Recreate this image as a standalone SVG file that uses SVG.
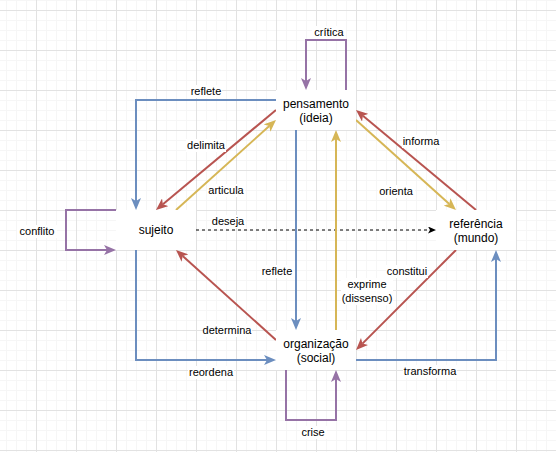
<svg xmlns="http://www.w3.org/2000/svg" width="556" height="452" viewBox="0 0 556 452">
<style>
.e{fill:none;stroke-width:2;stroke-linejoin:miter}
.b{stroke:#6c8ebf}.r{stroke:#b85450}.y{stroke:#d6b656}.p{stroke:#9673a6}
.lb{fill:#fff}
.t{font-family:"Liberation Sans",Arial,sans-serif;font-size:11px;fill:#000;text-anchor:middle}
.n{font-family:"Liberation Sans",Arial,sans-serif;font-size:12px;fill:#000;text-anchor:middle}
.nb{fill:#fff;stroke:none}
</style>
<defs>
<pattern id="gmin" width="10" height="10" x="6" y="0" patternUnits="userSpaceOnUse"><rect width="10" height="1" fill="#f6f6f6"/><rect width="1" height="10" fill="#f6f6f6"/></pattern>
<pattern id="gmaj" width="40" height="40" x="36" y="10" patternUnits="userSpaceOnUse"><rect width="40" height="1" fill="#e2e2e2"/><rect width="1" height="40" fill="#e2e2e2"/></pattern>
<marker id="ab" viewBox="0 0 12 10" refX="3" refY="5" markerWidth="12" markerHeight="10" markerUnits="userSpaceOnUse" orient="auto"><path d="M0,0 L12,5 L0,10 L3,5 Z" fill="#6c8ebf"/></marker>
<marker id="ar" viewBox="0 0 12 10" refX="3" refY="5" markerWidth="12" markerHeight="10" markerUnits="userSpaceOnUse" orient="auto"><path d="M0,0 L12,5 L0,10 L3,5 Z" fill="#b85450"/></marker>
<marker id="ay" viewBox="0 0 12 10" refX="3" refY="5" markerWidth="12" markerHeight="10" markerUnits="userSpaceOnUse" orient="auto"><path d="M0,0 L12,5 L0,10 L3,5 Z" fill="#d6b656"/></marker>
<marker id="ap" viewBox="0 0 12 10" refX="3" refY="5" markerWidth="12" markerHeight="10" markerUnits="userSpaceOnUse" orient="auto"><path d="M0,0 L12,5 L0,10 L3,5 Z" fill="#9673a6"/></marker>
<marker id="ak" viewBox="0 0 8 7" refX="2" refY="3.5" markerWidth="8" markerHeight="7" markerUnits="userSpaceOnUse" orient="auto"><path d="M0,0 L8,3.5 L0,7 L2,3.5 Z" fill="#000"/></marker>
</defs>
<rect width="556" height="452" fill="#fff"/>
<rect width="556" height="452" fill="url(#gmin)"/>
<rect width="556" height="452" fill="url(#gmaj)"/>

<g id="connectors">
<path class="e b" d="M276,100 H136 V201" marker-end="url(#ab)"/>
<path class="e r" d="M276,110 L162.9,204.2" marker-end="url(#ar)"/>
<path class="e y" d="M176,210 L269.3,126" marker-end="url(#ay)"/>
<path class="e r" d="M476,210 L362.9,115.8" marker-end="url(#ar)"/>
<path class="e y" d="M356,120 L449.3,204" marker-end="url(#ay)"/>
<path fill="none" stroke="#000" stroke-width="1" stroke-dasharray="3 3" d="M196,230 H430" marker-end="url(#ak)"/>
<path class="e b" d="M296,130 V321" marker-end="url(#ab)"/>
<path class="e y" d="M336,330 V139" marker-end="url(#ay)"/>
<path class="e r" d="M456,250 L362.4,343.6" marker-end="url(#ar)"/>
<path class="e b" d="M356,360 H496 V259" marker-end="url(#ab)"/>
<path class="e r" d="M276,340 L182.7,256" marker-end="url(#ar)"/>
<path class="e b" d="M136,250 V360 H267" marker-end="url(#ab)"/>
<path class="e p" d="M116,210 H66 V250 H107" marker-end="url(#ap)"/>
<path class="e p" d="M346,90 V40 H306 V81" marker-end="url(#ap)"/>
<path class="e p" d="M286,370 V420 H336 V379" marker-end="url(#ap)"/>

<g id="labels">
<rect class="lb" x="190" y="85" width="32" height="13"/><text class="t" x="206" y="95">reflete</text>
<rect class="lb" x="186" y="139" width="40" height="13"/><text class="t" x="206" y="149">delimita</text>
<rect class="lb" x="207" y="184" width="38" height="13"/><text class="t" x="226" y="194">articula</text>
<rect class="lb" x="402" y="135" width="39" height="13"/><text class="t" x="421" y="145">informa</text>
<rect class="lb" x="378" y="185" width="37" height="13"/><text class="t" x="396" y="195">orienta</text>
<rect class="lb" x="211" y="215" width="34" height="13"/><text class="t" x="228" y="225">deseja</text>
<rect class="lb" x="261" y="265" width="32" height="13"/><text class="t" x="277" y="275">reflete</text>
<rect class="lb" x="341" y="278" width="52" height="27"/><text class="t" x="367" y="288">exprime</text><text class="t" x="367" y="302">(dissenso)</text>
<rect class="lb" x="386" y="265" width="42" height="13"/><text class="t" x="407" y="275">constitui</text>
<rect class="lb" x="403" y="365" width="54" height="13"/><text class="t" x="430" y="375">transforma</text>
<rect class="lb" x="203" y="324" width="49" height="13"/><text class="t" x="227" y="334">determina</text>
<rect class="lb" x="188" y="366" width="46" height="13"/><text class="t" x="211" y="376">reordena</text>
<rect class="lb" x="17" y="225" width="40" height="13"/><text class="t" x="37" y="235">conflito</text>
<rect class="lb" x="312" y="26" width="34" height="13"/><text class="t" x="329" y="36">crítica</text>
<rect class="lb" x="300" y="426" width="27" height="13"/><text class="t" x="313" y="436">crise</text>
</g>
</g>

<g id="pensamento"><rect class="nb" x="276" y="90" width="80" height="40"/><text class="n" x="316" y="108">pensamento</text><text class="n" x="316" y="121.5">(ideia)</text></g>
<g id="sujeito"><rect class="nb" x="116" y="210" width="80" height="40"/><text class="n" x="156" y="234">sujeito</text></g>
<g id="referencia"><rect class="nb" x="436" y="210" width="80" height="40"/><text class="n" x="476" y="228">referência</text><text class="n" x="476" y="241.5">(mundo)</text></g>
<g id="organizacao"><rect class="nb" x="276" y="330" width="80" height="40"/><text class="n" x="316" y="348">organização</text><text class="n" x="316" y="361.5">(social)</text></g>
</svg>
